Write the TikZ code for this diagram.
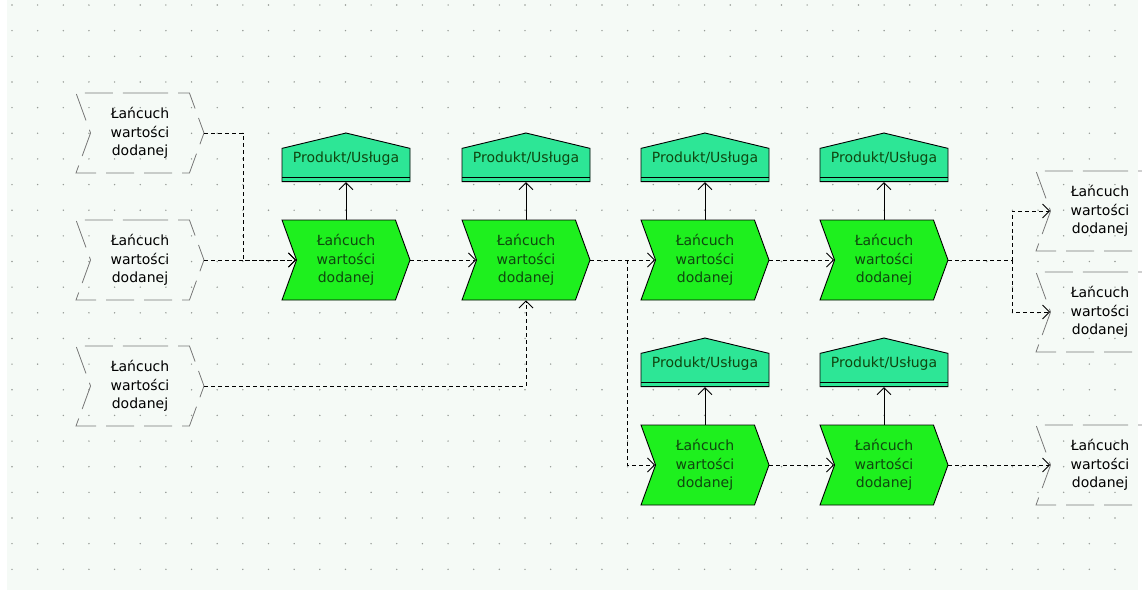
\documentclass[tikz,border=0pt]{standalone}
\usepackage{fontspec}
\setmainfont{DejaVu Sans}
\usetikzlibrary{arrows.meta,shapes.symbols}
\definecolor{ChainGreen}{RGB}{30,240,30}
\definecolor{ProductMint}{RGB}{45,230,150}
\definecolor{PaperTint}{RGB}{245,250,246}
\definecolor{GridGray}{RGB}{150,155,150}
\definecolor{InkGreen}{RGB}{15,70,15}
\definecolor{EdgeGray}{RGB}{120,120,120}
\tikzset{
 chainshape/.style={signal,signal to=east,signal from=west,signal pointer angle=140,minimum width=128pt,minimum height=80pt,inner sep=0pt,align=center,font=\fontsize{14}{18.5}\selectfont},
 vchain/.style={chainshape,draw,line width=.9pt,fill=ChainGreen,text=InkGreen},
 extchain/.style={chainshape,draw=EdgeGray,line width=.8pt,dash pattern=on 28pt off 10pt},
 prodbox/.style={signal,signal to=north,signal pointer angle=153,draw,line width=.9pt,fill=ProductMint,text=InkGreen,minimum width=128pt,minimum height=46pt,inner sep=0pt,font=\fontsize{14}{16}\selectfont},
 flow/.style={->,line width=.9pt,dash pattern=on 4pt off 3pt}
}
\begin{document}
\begin{tikzpicture}[x=1pt,y=-1pt,>={Straight Barb[length=7pt,width=14pt]}]
\useasboundingbox (0,0) rectangle (1142,592);
\clip (0,0) rectangle (1142,592);
\fill[PaperTint] (7,0) rectangle (1138,590);
\foreach \i in {0,...,43}{\foreach \j in {0,...,22}{\fill[GridGray] (12+25.65*\i,5+25.65*\j) circle (.8pt);}}
% value chains with their products
\foreach \n/\x/\y in {1/346/260,2/526/260,3/705/260,4/884/260,5/705/465,6/884/465}{
 \node[vchain] (V\n) at (\x,\y) {Łańcuch\\wartości\\dodanej};
 \node[prodbox] (P\n) at (\x,\y-95) {\raisebox{2.5pt}[0pt][0pt]{Produkt/Usługa}};
 \draw ([shift={(-64pt,5pt)}]P\n.south) -- ([shift={(64pt,5pt)}]P\n.south);
 \draw[->,line width=.9pt] (V\n.north) -- (P\n.south);}
% outside chains
\foreach \n/\x/\y in {1/140/133,2/140/260,3/140/386,4/1100/211,5/1100/312,6/1100/465}{
 \node[extchain] (E\n) at (\x,\y) {Łańcuch\\wartości\\dodanej};}
\coordinate (J1) at (243,260);\coordinate (J2) at (627,260);\coordinate (J3) at (1012,260);
\draw[flow] (E1.east) -| (J1) -- (V1.west);
\draw[flow] (E2.east) -- (V1.west);
\draw[flow] (E3.east) -| (V2.south);
\draw[flow] (V1.east) -- (V2.west);
\draw[flow] (V2.east) -- (V3.west);\draw[flow] (J2) |- (V5.west);
\draw[flow] (V3.east) -- (V4.west);\draw[flow] (V5.east) -- (V6.west);
\draw[flow] (V4.east) -- (J3) |- (E4.west);\draw[flow] (J3) |- (E5.west);
\draw[flow] (V6.east) -- (E6.west);
\end{tikzpicture}
\end{document}
